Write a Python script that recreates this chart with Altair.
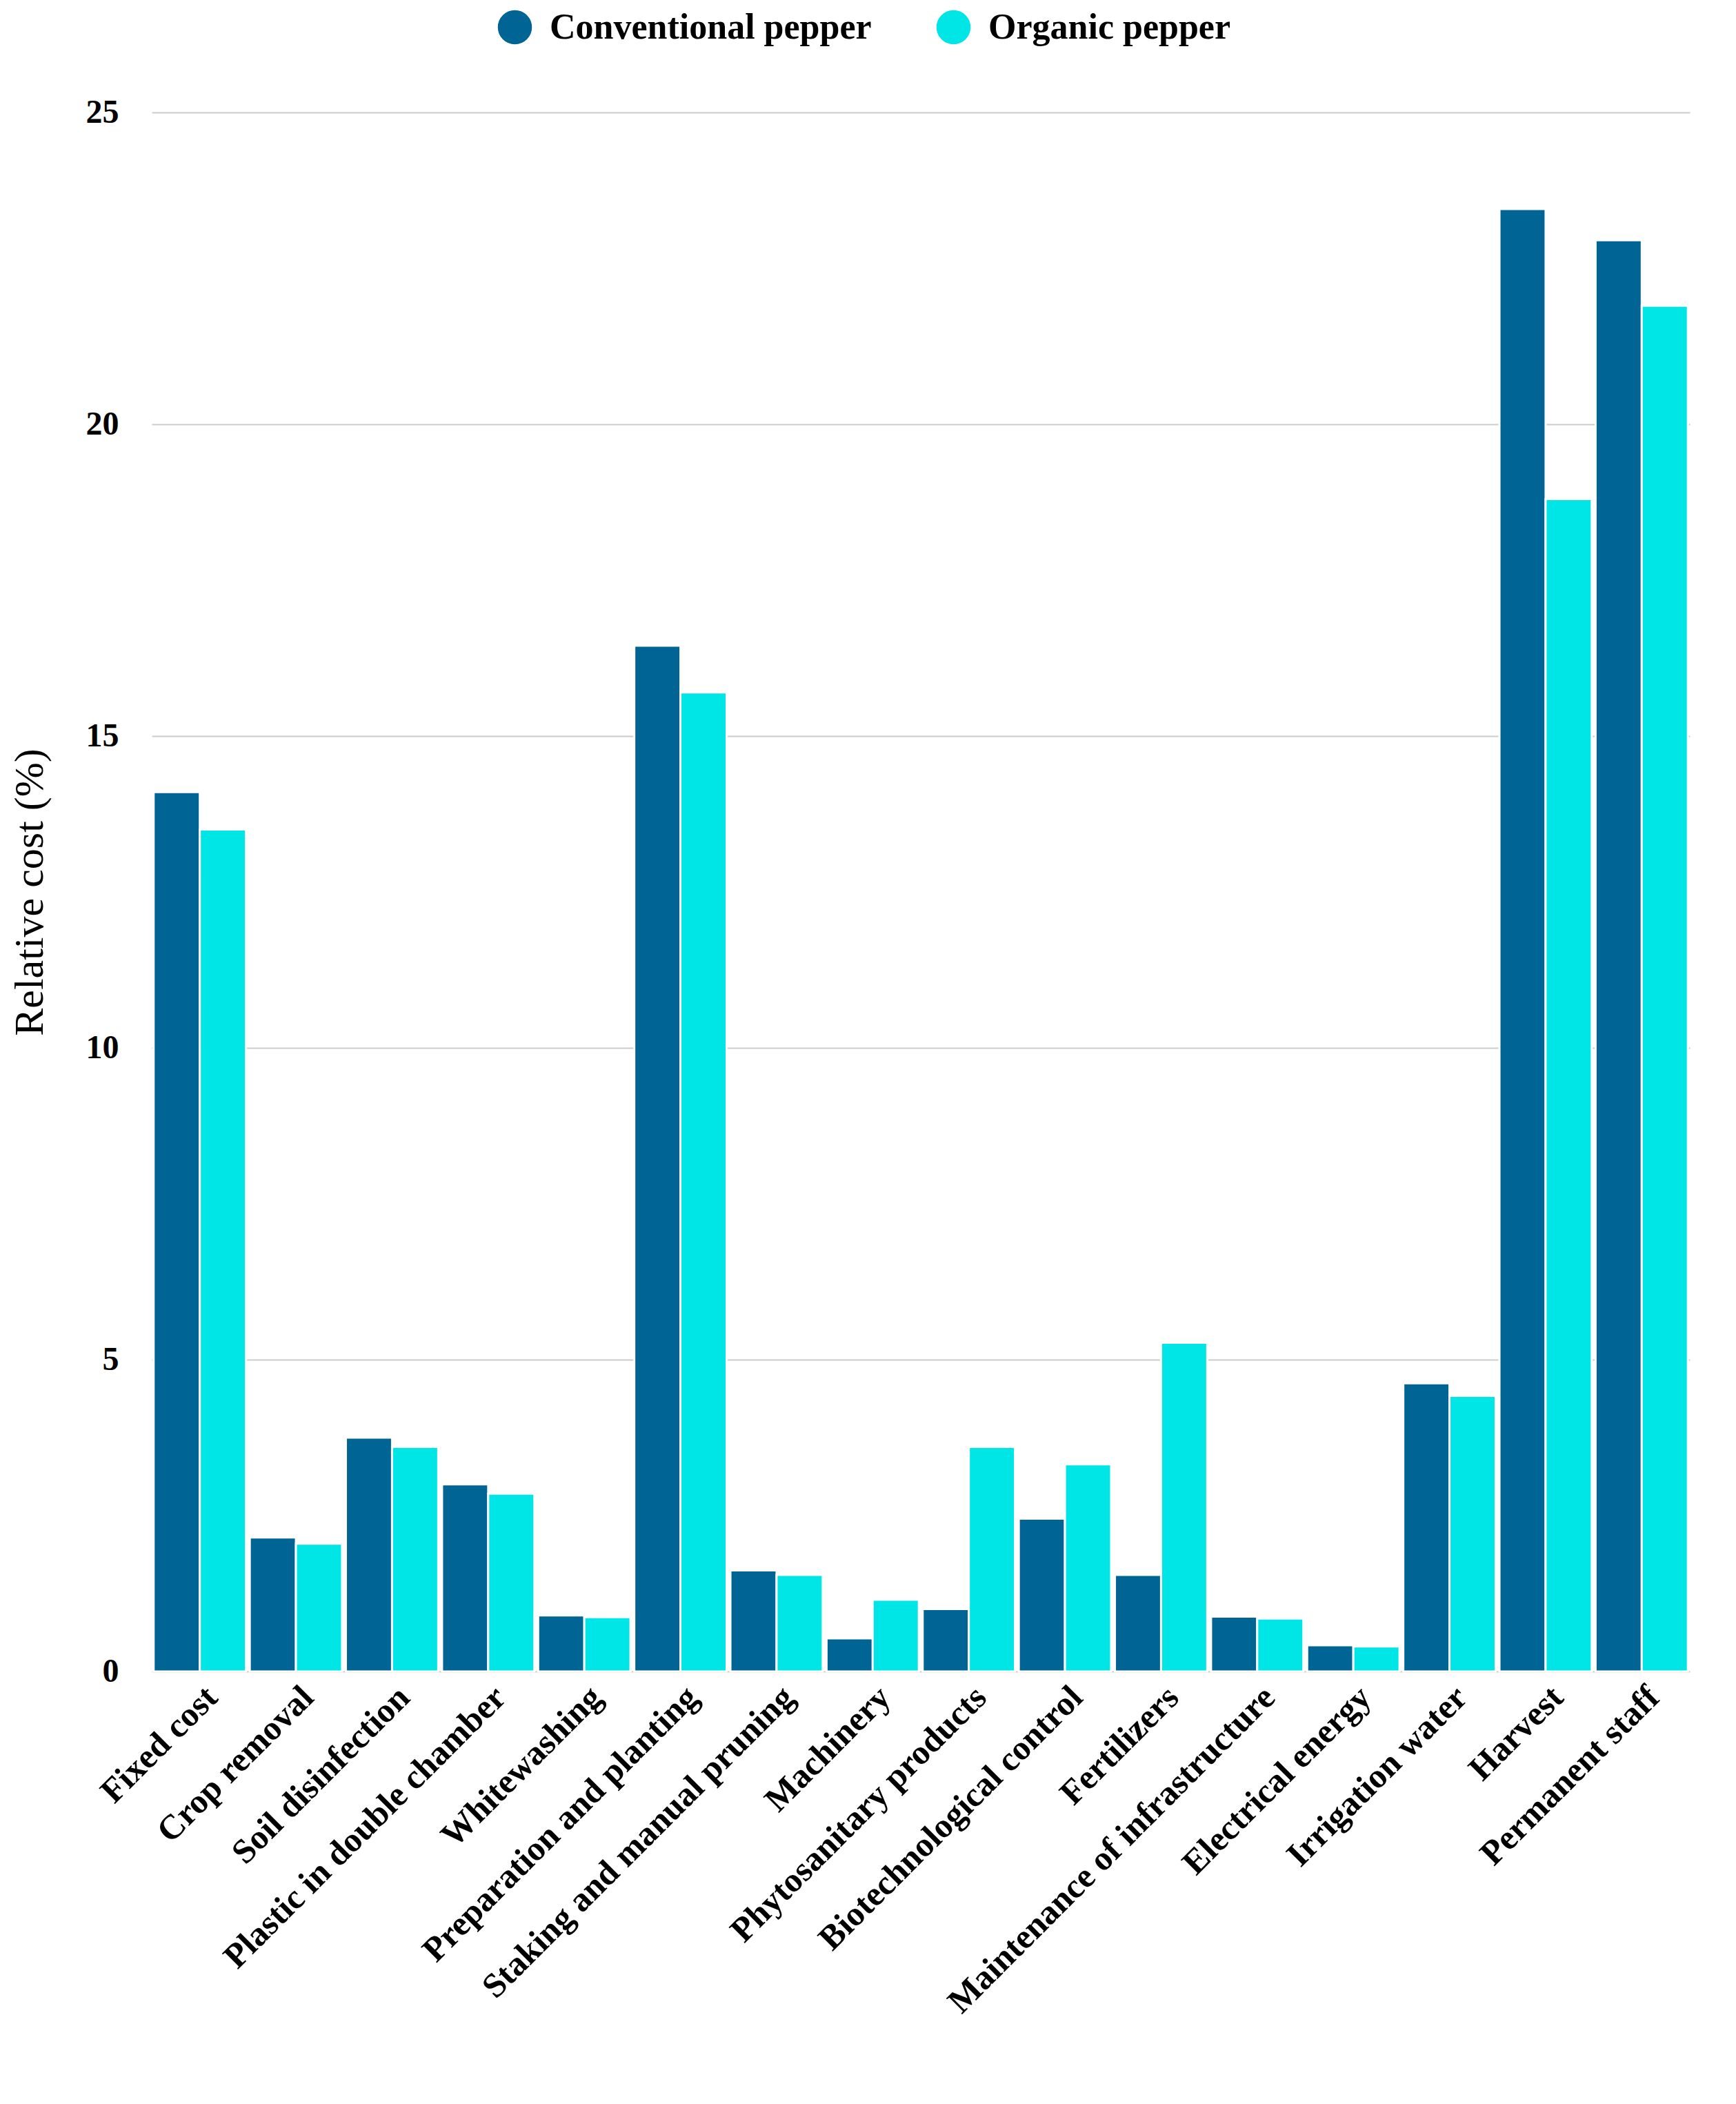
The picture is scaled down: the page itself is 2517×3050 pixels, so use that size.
import altair as alt
import pandas as pd

categories = ["Fixed cost", "Crop removal", "Soil disinfection", "Plastic in double chamber",
              "Whitewashing", "Preparation and planting", "Staking and manual pruning",
              "Machinery", "Phytosanitary products", "Biotechnological control", "Fertilizers",
              "Maintenance of infrastructure", "Electrical energy", "Irrigation water",
              "Harvest", "Permanent staff"]
conventional = [14.1, 2.15, 3.75, 3.0, 0.9, 16.45, 1.62, 0.53, 1.0, 2.45, 1.55, 0.88, 0.42, 4.62, 23.45, 22.95]
organic = [13.5, 2.05, 3.6, 2.85, 0.87, 15.7, 1.55, 1.15, 3.6, 3.32, 5.27, 0.85, 0.4, 4.42, 18.8, 21.9]
series = ["Conventional pepper", "Organic pepper"]

rows = []
for c, a, b in zip(categories, conventional, organic):
    rows.append({"cat": c, "series": series[0], "value": a})
    rows.append({"cat": c, "series": series[1], "value": b})
data = pd.DataFrame(rows)

font = "Liberation Serif"

chart = alt.Chart(data, width=2230, height=2260).mark_bar(stroke="white", strokeWidth=3).encode(
    x=alt.X("cat:N", sort=categories, title=None,
            scale=alt.Scale(paddingInner=0.04, paddingOuter=0.02),
            axis=alt.Axis(labelAngle=-45, labelAlign="right", labelBaseline="top",
                          labelFontSize=50, labelFontWeight="bold", labelFont=font,
                          ticks=False, domain=False, labelPadding=12, labelLimit=1200)),
    xOffset=alt.XOffset("series:N", sort=series),
    y=alt.Y("value:Q", title="Relative cost (%)",
            scale=alt.Scale(domain=[0, 25]),
            axis=alt.Axis(values=[0, 5, 10, 15, 20, 25], labelFontSize=48, labelFontWeight="bold",
                          labelFont=font, titleFont=font, titleFontSize=60, titleFontWeight="normal",
                          ticks=False, domain=False, gridColor="#cccccc", gridWidth=2,
                          labelPadding=48, titlePadding=50)),
    color=alt.Color("series:N", sort=series,
                    scale=alt.Scale(domain=series, range=["#006494", "#00E5E5"]),
                    legend=alt.Legend(title=None, orient="none", legendX=500, legendY=-150,
                                      direction="horizontal",
                                      symbolType="circle", symbolSize=2600, labelFontSize=52,
                                      labelFont=font, labelFontWeight="bold", columnPadding=90,
                                      labelOffset=24, labelLimit=1000))
).configure_view(stroke=None)

chart.save("out.html", embed_options={"renderer": "svg", "actions": False})
